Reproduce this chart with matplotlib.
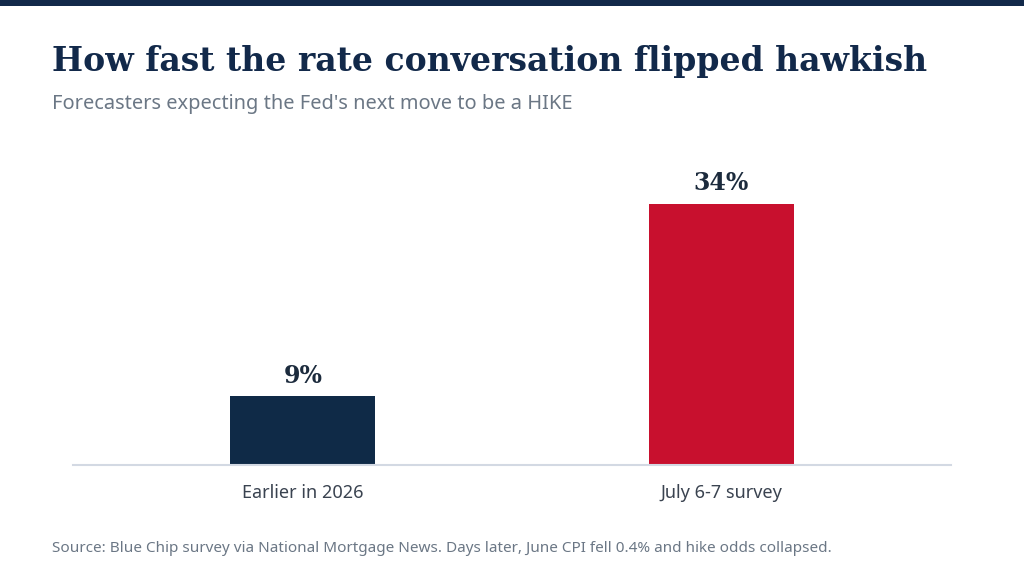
import matplotlib.pyplot as plt
from matplotlib.patches import Rectangle

categories = ['Earlier in 2026', 'July 6-7 survey']
values = [9, 34]
bar_colors = ['#0f2a47', '#c8102e']
value_labels = ['9%', '34%']

title = 'How fast the rate conversation flipped hawkish'
subtitle = "Forecasters expecting the Fed's next move to be a HIKE"
source = 'Source: Blue Chip survey via National Mortgage News. Days later, June CPI fell 0.4% and hike odds collapsed.'

fig = plt.figure(figsize=(10.24, 5.76), dpi=100)
fig.patch.set_facecolor('white')

# dark strip along the top edge
fig.add_artist(Rectangle((0, 1 - 6 / 576), 1, 6 / 576, transform=fig.transFigure,
                         color='#12294a', lw=0))

fig.text(52 / 1024, 1 - 61 / 576, title, fontsize=23.8, fontweight='bold',
         family='DejaVu Serif', color='#12294a', va='center', ha='left')
fig.text(52 / 1024, 1 - 104 / 576, subtitle, fontsize=14.4, family='Noto Sans',
         color='#6b7785', va='center', ha='left')
fig.text(52 / 1024, 1 - 548 / 576, source, fontsize=11, family='Noto Sans',
         color='#6b7785', va='center', ha='left')

ax = fig.add_axes([73 / 1024, 1 - 465 / 576, 878 / 1024, 325 / 576])
x = range(len(categories))
bars = ax.bar(x, values, width=0.347, color=bar_colors)
ax.set_xlim(-0.55, 1.55)
ax.set_ylim(0, 42.3)

for b, lab in zip(bars, value_labels):
    ax.annotate(lab, (b.get_x() + b.get_width() / 2, b.get_height()),
                xytext=(0, 6), textcoords='offset points', ha='center', va='bottom',
                fontsize=17, fontweight='bold', family='DejaVu Serif', color='#1c2b3d')

for s in ['top', 'right', 'left']:
    ax.spines[s].set_visible(False)
ax.spines['bottom'].set_color('#d3d9e3')
ax.spines['bottom'].set_linewidth(1.5)
ax.set_yticks([])
ax.set_xticks(list(x))
ax.set_xticklabels(categories, fontsize=13, family='Noto Sans', color='#3a4350')
ax.tick_params(axis='x', length=0, pad=14)

fig.savefig('out.png', dpi=100)
